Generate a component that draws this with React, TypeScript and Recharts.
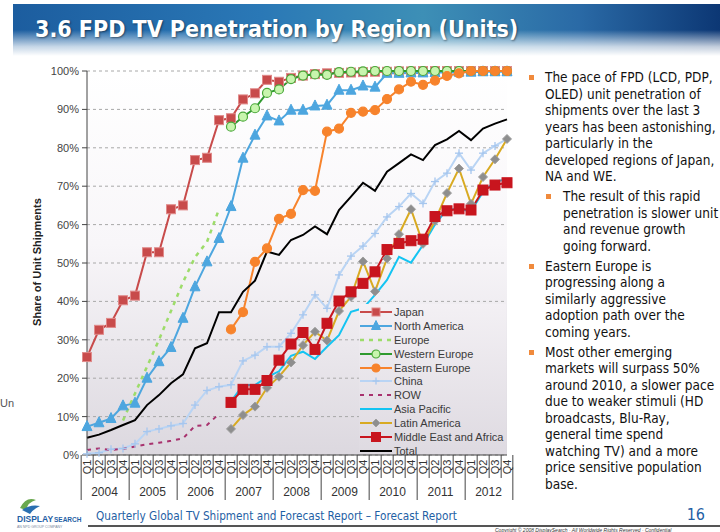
import { ComposedChart, Line, XAxis, YAxis, CartesianGrid } from 'recharts'

// categories
const YEARS = ['2004', '2005', '2006', '2007', '2008', '2009', '2010', '2011', '2012']
const QUARTERS = ['Q1', 'Q2', 'Q3', 'Q4']
const Y_TICKS = [0, 10, 20, 30, 40, 50, 60, 70, 80, 90, 100]

// series values, % of unit shipments, one per quarter 2004Q1..2012Q4
const JAPAN = [25.5, 32.6, 34.4, 40.3, 41.5, 52.8, 52.8, 64, 65, 76.8, 77.4, 87.2, 87.7, 92.6, 94.2, 97.7, 97.2, 98.2, 98.8, 99.2, 99.4, 99.5, 99.6, 99.7, 99.8, 99.8, 99.9, 99.9, 100, 100, 100, 100, 100, 100, 100, 100]
const NORTH_AMERICA = [7.4, 8.4, 9.5, 12.8, 13.5, 20, 24.3, 28, 35.6, 43.8, 50.3, 56.4, 64.7, 77.3, 83.3, 88.3, 87, 89.8, 89.8, 90.9, 91.1, 95, 95, 96.1, 95.8, 99.4, 99.4, 99.5, 99.5, 99.6, 99.6, 99.7, 99.7, 99.8, 99.8, 99.8]
const EUROPE = [null, null, null, 9, 16, 23, 30, 37.5, 45, 51.5, 55.5, 64, null, null, null, null, null, null, null, null, null, null, null, null, null, null, null, null, null, null, null, null, null, null, null, null]
const WESTERN_EUROPE = [null, null, null, null, null, null, null, null, null, null, null, null, 85.5, 88.1, 90.3, 94.3, 95.2, 97.9, 98.8, 99.1, 99, 99.7, 99.8, 99.9, 100, 100, 100, 100, 100, 100, 100, 100, 100, 100, 100, 100]
const EASTERN_EUROPE = [null, null, null, null, null, null, null, null, null, null, null, null, 32.7, 37.2, 50.3, 53.8, 61.5, 62.8, 69, 68.8, 84.2, 85, 89.1, 89.4, 89.8, 92.7, 95.2, 97.2, 96.4, 97.5, 98.7, 99.4, 100, 100, 100, 100]
const CHINA = [0.3, 0.6, 1.5, 1.7, 2.9, 6.1, 6.8, 7.6, 8.2, 13, 16.8, 17.8, 18.3, 24.5, 26, 28.2, 28.2, 31.7, 36.5, 41.7, 38.2, 46.9, 51.8, 54.4, 57.7, 62, 64.7, 68.1, 65.5, 71.2, 73.4, 78.6, 74.2, 78.6, 80.5, 82.3]
const ROW = [1.3, 1.7, 1.3, 1.6, 2.2, 2.8, 3.2, 3.7, 4.3, 7.6, 7.8, 10.7, null, null, null, null, null, null, null, null, null, null, null, null, null, null, null, null, null, null, null, null, null, null, null, null]
const ASIA_PACIFIC = [null, null, null, null, null, null, null, null, null, null, null, null, 13.9, 18.2, 18.2, 20.3, 21.8, 25.8, 26.9, 25, 28.2, 31.2, 37.3, 38.2, 41.7, 45.6, 51.6, 50.1, 54.7, 60, 64, 64, 63.5, 68.5, 71.2, 71.8]
const LATIN_AMERICA = [null, null, null, null, null, null, null, null, null, null, null, null, 6.8, 10.4, 12.6, 17.5, 20.4, 24.1, 28.6, 32.1, 29.8, 37.5, 41.2, 50.4, 42.6, 51.2, 57.5, 64, 55, 61, 68.2, 74.6, 65.4, 72.4, 77, 82.3]
const MIDDLE_EAST_AFRICA = [null, null, null, null, null, null, null, null, null, null, null, null, 13.7, 17.1, 17.1, 19.4, 24.7, 28.9, 31.9, 27.5, 34.3, 40.1, 42.5, 44.7, 47.7, 53.5, 55.1, 55.8, 56.2, 62.1, 63.6, 64.1, 63.8, 69, 70.3, 70.9]
const TOTAL = [4.5, 5.3, 6.5, 7.8, 9.1, 13, 15.6, 18.7, 21, 27.8, 29.1, 37.2, 37.2, 42.5, 45.4, 53, 52.1, 56, 57.3, 59.5, 57.5, 63.8, 67.3, 70.9, 68.8, 73.8, 76, 78.3, 76.8, 80.7, 82.2, 84.4, 82, 85, 86.3, 87.4]

const SERIES = [
    { key: 'japan', name: 'Japan', values: JAPAN, color: '#c84b4b', marker: 'square', markerFill: '#c84b4b', markerStroke: '#e08a8a', size: 9 },
    { key: 'na', name: 'North America', values: NORTH_AMERICA, color: '#4da6df', marker: 'triangle', markerFill: '#4da6df', markerStroke: '#4da6df', size: 10 },
    { key: 'europe', name: 'Europe', values: EUROPE, color: '#9ddc6a', dash: '4 5', width: 2.5 },
    { key: 'we', name: 'Western Europe', values: WESTERN_EUROPE, color: '#2f9a2f', marker: 'circle', markerFill: '#c8f5ae', markerStroke: '#4aa83a', size: 9 },
    { key: 'ee', name: 'Eastern Europe', values: EASTERN_EUROPE, color: '#f7832c', marker: 'circle', markerFill: '#f7832c', markerStroke: '#f7832c', size: 9 },
    { key: 'china', name: 'China', values: CHINA, color: '#b9d4f4', marker: 'plus', markerFill: '#b9d4f4', markerStroke: '#a6c6ee', size: 8 },
    { key: 'row', name: 'ROW', values: ROW, color: '#a8326e', dash: '4 5', width: 2 },
    { key: 'ap', name: 'Asia Pacific', values: ASIA_PACIFIC, color: '#14c4f2' },
    { key: 'la', name: 'Latin America', values: LATIN_AMERICA, color: '#d8aa22', marker: 'diamond', markerFill: '#8e8e8e', markerStroke: '#a0a0a0', size: 9 },
    { key: 'me', name: 'Middle East and Africa', values: MIDDLE_EAST_AFRICA, color: '#c8151e', marker: 'square', markerFill: '#c8151e', markerStroke: '#c8151e', size: 10 },
    { key: 'total', name: 'Total', values: TOTAL, color: '#000000' },
]

const DATA = YEARS.flatMap((year, yi) =>
    QUARTERS.map((quarter, qi) => {
        const i = yi * 4 + qi
        const row: any = { key: `${year}${quarter}`, year, quarter }
        SERIES.forEach(s => { row[s.key] = s.values[i] })
        return row
    })
)

const CHART_W = 720
const CHART_H = 510
const PLOT_BOTTOM = 455
const MARGIN = { top: 71, right: 213, bottom: 0, left: 0 }
const Y_AXIS_W = 87
const PLOT_W = CHART_W - MARGIN.left - MARGIN.right - Y_AXIS_W
const AXIS_COLOR = '#454545'
const SANS = '"Liberation Sans", Arial, sans-serif'
const TAHOMA = '"DejaVu Sans Condensed", "DejaVu Sans", sans-serif'

const Marker = ({ type, cx, cy, fill, stroke, size }: any) => {
    const h = size / 2
    if (type === 'square') return <rect x={cx - h} y={cy - h} width={size} height={size} fill={fill} stroke={stroke} strokeWidth={1} />
    if (type === 'circle') return <circle cx={cx} cy={cy} r={h} fill={fill} stroke={stroke} strokeWidth={1.2} />
    if (type === 'triangle') return <polygon points={`${cx},${cy - h - 1} ${cx + h},${cy + h - 1} ${cx - h},${cy + h - 1}`} fill={fill} stroke={stroke} />
    if (type === 'diamond') return <polygon points={`${cx},${cy - h} ${cx + h},${cy} ${cx},${cy + h} ${cx - h},${cy}`} fill={fill} stroke={stroke} />
    if (type === 'plus') return (
        <g stroke={stroke} strokeWidth={1.3}>
            <line x1={cx - h} x2={cx + h} y1={cy} y2={cy} />
            <line x1={cx} x2={cx} y1={cy - h} y2={cy + h} />
        </g>
    )
    return null
}

const makeDot = (s: any) => (props: any) => {
    const { cx, cy, index } = props
    if (cx == null || cy == null || props.value == null) return <g key={`${s.key}-${index}`} />
    return (
        <g key={`${s.key}-${index}`}>
            <Marker type={s.marker} cx={cx} cy={cy} fill={s.markerFill} stroke={s.markerStroke} size={s.size} />
        </g>
    )
}

const QuarterTick = (props: any) => {
    const { x, y, index } = props
    const row = DATA[index]
    if (!row) return null
    const bw = PLOT_W / DATA.length
    const left = x - bw / 2
    const yearStart = index % 4 === 0
    return (
        <g>
            <line x1={left} x2={left} y1={y} y2={y + (yearStart ? 45 : 23)} stroke={AXIS_COLOR} strokeWidth={1} />
            {index === DATA.length - 1 && (
                <line x1={x + bw / 2} x2={x + bw / 2} y1={y} y2={y + 45} stroke={AXIS_COLOR} strokeWidth={1} />
            )}
            <text
                transform={`translate(${x + 4},${y + 12}) rotate(-90)`}
                textAnchor="middle"
                fontSize={11}
                fontFamily={SANS}
                fill="#333"
            >
                {row.quarter}
            </text>
            {yearStart && (
                <text x={x + 1.5 * bw} y={y + 41} textAnchor="middle" fontSize={12} fontFamily={SANS} fill="#333">
                    {row.year}
                </text>
            )}
        </g>
    )
}

const LegendSample = ({ s }: any) => (
    <svg width={34} height={12} style={{ display: 'block' }}>
        <line x1={1} x2={33} y1={6} y2={6} stroke={s.color} strokeWidth={s.width || 2} strokeDasharray={s.dash} />
        {s.marker && <Marker type={s.marker} cx={17} cy={6} fill={s.markerFill} stroke={s.markerStroke} size={s.size - 1} />}
    </svg>
)

const LegendBox = () => (
    <div
        style={{
            position: 'absolute',
            left: 359,
            top: 304,
            width: 147,
            height: 150,
            paddingTop: 1,
            boxSizing: 'border-box',
            background: 'linear-gradient(to bottom, #f3f0f4, #dedae1)',
        }}
    >
        {SERIES.map(s => (
            <div key={s.key} style={{ display: 'flex', alignItems: 'center', height: 13.9 }}>
                <LegendSample s={s} />
                <span style={{ fontFamily: SANS, fontSize: 11, color: '#3a3a3a', whiteSpace: 'nowrap', marginLeft: 1 }}>{s.name}</span>
            </div>
        ))}
    </div>
)

const BULLETS = [
    { level: 0, lines: ['The pace of FPD (LCD, PDP,', 'OLED) unit penetration of', 'shipments over the last 3', 'years has been astonishing,', 'particularly in the', 'developed regions of Japan,', 'NA and WE.'] },
    { level: 1, lines: ['The result of this rapid', 'penetration is slower unit', 'and revenue growth', 'going forward.'] },
    { level: 0, lines: ['Eastern Europe is', 'progressing along a', 'similarly aggressive', 'adoption path over the', 'coming years.'] },
    { level: 0, lines: ['Most other emerging', 'markets will surpass 50%', 'around 2010, a slower pace', 'due to weaker stimuli (HD', 'broadcasts, Blu-Ray,', 'general time spend', 'watching TV) and a more', 'price sensitive population', 'base.'] },
]

const BulletText = () => (
    <div style={{ position: 'absolute', left: 527, top: 69, width: 193 }}>
        {BULLETS.map((b, i) => (
            <div key={i} style={{ position: 'relative', paddingLeft: b.level ? 36 : 18, marginBottom: 3.5 }}>
                <div
                    style={{
                        position: 'absolute',
                        left: b.level ? 19 : 2,
                        top: 6,
                        width: 5,
                        height: 5,
                        background: '#f08a3c',
                    }}
                />
                {b.lines.map((l, j) => (
                    <div key={j} style={{ fontFamily: TAHOMA, fontSize: 13.5, lineHeight: '16.5px', color: '#111', whiteSpace: 'nowrap' }}>
                        {l}
                    </div>
                ))}
            </div>
        ))}
    </div>
)

export default function App() {
    return (
        <div style={{ position: 'absolute', left: 0, top: 0, width: 720, height: 532, background: '#fff', overflow: 'hidden' }}>
            {/* Title band */}
            <div
                style={{
                    position: 'absolute',
                    left: 13,
                    top: 4,
                    width: 707,
                    height: 52,
                    background:
                        'linear-gradient(to bottom, rgba(255,255,255,0) 0%, rgba(255,255,255,0) 50%, rgba(255,255,255,0.75) 82%, #ffffff 100%), linear-gradient(to right, #1c5d9f 0%, #2a78b6 35%, #3d8fb6 58%, #2a6aa6 80%, #0c3774 100%)',
                }}
            />
            <div
                style={{
                    position: 'absolute',
                    left: 35,
                    top: 16,
                    fontFamily: TAHOMA,
                    fontWeight: 'bold',
                    fontSize: 23,
                    color: '#fff',
                    textShadow: '1px 1px 2px rgba(0,0,0,0.45)',
                    whiteSpace: 'nowrap',
                }}
            >
                3.6 FPD TV Penetration by Region (Units)
            </div>

            {/* Plot background */}
            <div
                style={{
                    position: 'absolute',
                    left: MARGIN.left + Y_AXIS_W,
                    top: MARGIN.top,
                    width: PLOT_W,
                    height: PLOT_BOTTOM - MARGIN.top,
                    background: 'linear-gradient(to bottom, #ffffff 0%, #f8f6f9 45%, #dcd8df 100%)',
                }}
            />

            {/* Y axis title */}
            <div
                style={{
                    position: 'absolute',
                    left: 37,
                    top: 262,
                    transform: 'translate(-50%, -50%) rotate(-90deg)',
                    fontFamily: SANS,
                    fontWeight: 'bold',
                    fontSize: 11,
                    color: '#222',
                    whiteSpace: 'nowrap',
                }}
            >
                Share of Unit Shipments
            </div>

            <div style={{ position: 'absolute', left: 0, top: 0 }}>
                <ComposedChart width={CHART_W} height={CHART_H} data={DATA} margin={MARGIN}>
                    <CartesianGrid horizontal vertical={false} stroke="#a8a8a8" strokeDasharray="3 3" />
                    <XAxis
                        dataKey="key"
                        interval={0}
                        height={CHART_H - PLOT_BOTTOM}
                        tickSize={0}
                        tickMargin={0}
                        tick={<QuarterTick />}
                        axisLine={{ stroke: AXIS_COLOR }}
                        tickLine={false}
                    />
                    <YAxis
                        width={Y_AXIS_W}
                        domain={[0, 100]}
                        ticks={Y_TICKS}
                        interval={0}
                        tickFormatter={(v) => `${v}%`}
                        tick={{ fontSize: 11, fill: '#444', fontFamily: SANS }}
                        tickSize={5}
                        tickMargin={3}
                        axisLine={{ stroke: AXIS_COLOR }}
                        tickLine={{ stroke: AXIS_COLOR }}
                    />
                    {SERIES.map(s => (
                        <Line
                            key={s.key}
                            dataKey={s.key}
                            name={s.name}
                            type="linear"
                            stroke={s.color}
                            strokeWidth={s.width || 2}
                            strokeDasharray={s.dash}
                            dot={s.marker ? makeDot(s) : false}
                            activeDot={false}
                            isAnimationActive={false}
                        />
                    ))}
                </ComposedChart>
            </div>

            <LegendBox />
            <BulletText />

            {/* Footer */}
            <div style={{ position: 'absolute', left: 0, top: 397, fontFamily: SANS, fontSize: 11, color: '#555' }}>Un</div>
            <svg style={{ position: 'absolute', left: 16, top: 494 }} width={70} height={38}>
                <path d="M4 14 Q10 2 20 6 Q12 8 10 16 Z" fill="#6aa84f" />
                <path d="M6 16 Q14 10 24 12 Q16 16 14 20 Z" fill="#2a6fb0" />
                <text x={1} y={28} fontFamily={SANS} fontWeight="bold" fontSize={8.5} fill="#1f5fa5">DISPLAY</text>
                <text x={38} y={28} fontFamily={SANS} fontWeight="bold" fontSize={6.5} fill="#1f5fa5">SEARCH</text>
                <text x={1} y={34} fontFamily={SANS} fontSize={3.5} fill="#7a8aa0">AN NPD GROUP COMPANY</text>
            </svg>
            <div style={{ position: 'absolute', left: 96, top: 509, fontFamily: TAHOMA, fontSize: 11.7, color: '#1f5fa5', whiteSpace: 'nowrap' }}>
                Quarterly Global TV Shipment and Forecast Report – Forecast Report
            </div>
            <div style={{ position: 'absolute', right: 15, top: 505, fontFamily: TAHOMA, fontSize: 16, color: '#1f5fa5' }}>16</div>
            <div style={{ position: 'absolute', left: 88, top: 525, width: 632, height: 2, background: '#555' }} />
            <div style={{ position: 'absolute', left: 495, top: 527, fontFamily: SANS, fontSize: 5, fontStyle: 'italic', color: '#333', whiteSpace: 'nowrap' }}>
                Copyright © 2008 DisplaySearch · All Worldwide Rights Reserved · Confidential
            </div>
        </div>
    )
}
